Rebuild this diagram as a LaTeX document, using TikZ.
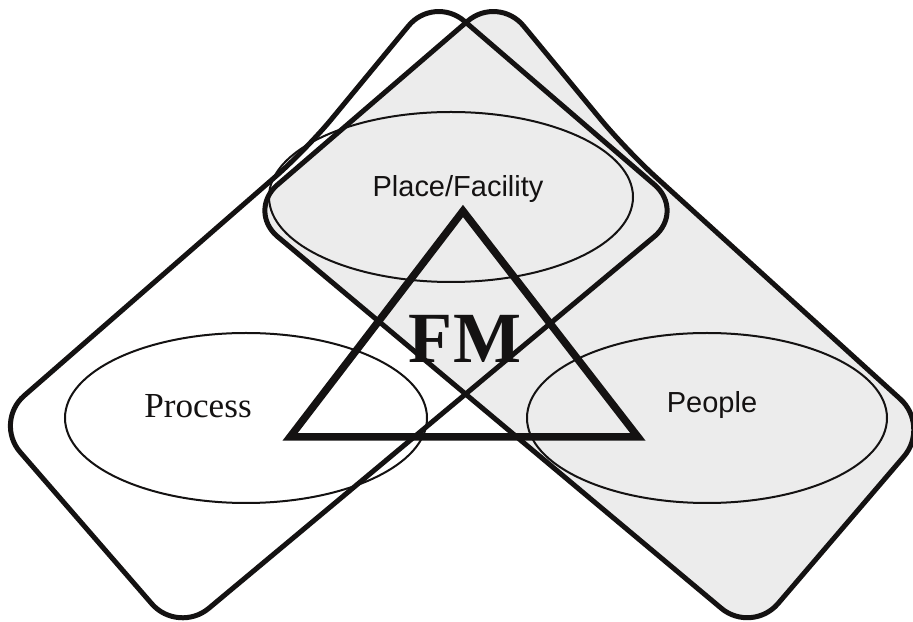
\documentclass[tikz,border=0pt]{standalone}
\usepackage{fontspec}
\setmainfont{Liberation Serif}
\setsansfont{Liberation Sans}
\usetikzlibrary{positioning}

\definecolor{bandgray}{RGB}{236,236,236}
\definecolor{ink}{RGB}{20,18,18}

\begin{document}
\begin{tikzpicture}[x=0.2mm, y=-0.2mm,
    band/.style={line width=1mm, draw=ink, rounded corners=8mm, line join=round},
    ring/.style={line width=0.4mm, draw=ink},
    label/.style={inner sep=0pt, anchor=base, text=ink}]

\useasboundingbox (0,0) rectangle (913,622);

% corners of the band running up to the right (Process side)
\coordinate (pl-w) at (-6,422);
\coordinate (pl-s) at (178,634);
\coordinate (pl-e) at (685,211);
\coordinate (pl-n) at (434,-5);
\coordinate (pl-k) at (306,150);

% corners of the band running down to the right (People side)
\coordinate (pr-e) at (930,426);
\coordinate (pr-s) at (752,634);
\coordinate (pr-w) at (247,211);
\coordinate (pr-n) at (498,-5);
\coordinate (pr-k) at (626,150);

% only the People band is shaded
\fill [bandgray, rounded corners=8mm] (pr-e) -- (pr-s) -- (pr-w) -- (pr-n) -- (pr-k) -- cycle;

\draw [band] (pr-e) -- (pr-s) -- (pr-w) -- (pr-n) -- (pr-k) -- cycle;
\draw [band] (pl-w) -- (pl-s) -- (pl-e) -- (pl-n) -- (pl-k) -- cycle;

% the three ellipses
\draw [ring] (451,197) ellipse [x radius=182, y radius=85];
\draw [ring] (246,418) ellipse [x radius=181, y radius=85];
\draw [ring] (707,418) ellipse [x radius=180, y radius=85];

% triangle
\draw [line width=1.5mm, draw=ink, line join=miter] (463,211) -- (638,437) -- (290,437) -- cycle;

\node [label, font=\sffamily\fontsize{16.5}{18}\selectfont] (place)   at (458,197) {Place/Facility};
\node [label, font=\fontsize{20}{22}\selectfont]            (process) at (198,418) {Process};
\node [label, font=\sffamily\fontsize{16.5}{18}\selectfont] (people)  at (712,413) {People};
\node [label, font=\bfseries\fontsize{41}{44}\selectfont]  (fm)      at (465,363) {FM};

\end{tikzpicture}
\end{document}
